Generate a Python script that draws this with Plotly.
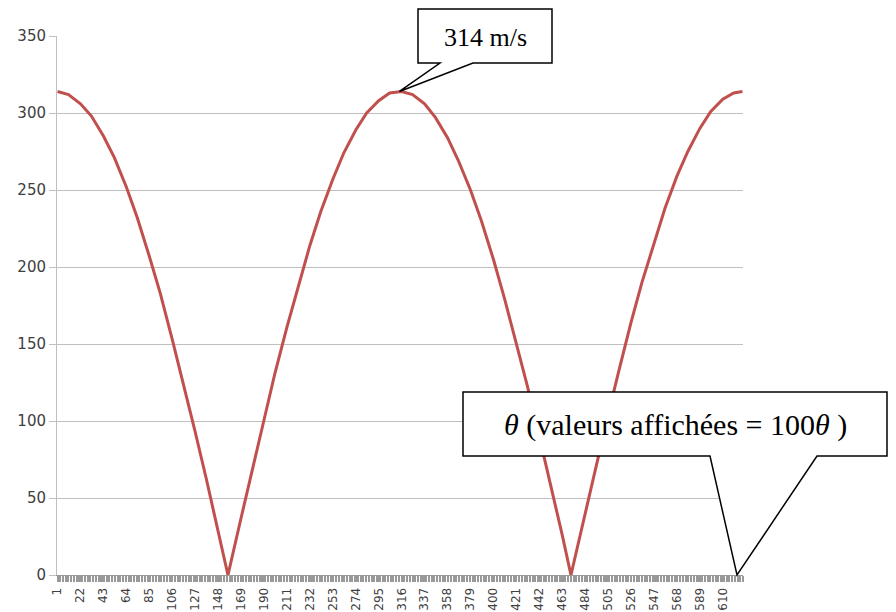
import plotly.graph_objects as go

# ---- data ----
theta_x = [1, 11, 22, 32, 43, 53, 64, 74, 85, 95, 106, 116, 127, 137, 148, 157,
           169, 179, 190, 200, 211, 221, 232, 242, 253, 263, 274, 284, 295, 305, 316,
           326, 337, 347, 358, 368, 379, 389, 400, 410, 421, 431, 442, 452, 463, 471,
           484, 494, 505, 515, 526, 536, 547, 557, 568, 578, 589, 599, 610, 620, 628]
speed_y = [314, 312, 306, 298, 285, 271, 252, 232, 207, 183, 153, 125, 93, 63, 28, 0,
           37, 68, 102, 131, 161, 187, 214, 236, 257, 274, 289, 300, 308, 313, 314,
           312, 306, 297, 284, 269, 250, 230, 205, 180, 151, 123, 90, 60, 26, 0,
           40, 71, 104, 133, 164, 190, 216, 238, 259, 275, 290, 301, 309, 313, 314]
n_categories = 628
tick_labels = [str(v) for v in range(1, 611, 21)]
y_ticks = [0, 50, 100, 150, 200, 250, 300, 350]

# page geometry (the page body adds an 8px offset)
OFF = 8
PAGE_W, PAGE_H = 896, 612
PX0, PX1, PY0, PY1 = 57, 743, 36, 575   # plot area in page pixels
PW, PH = PX1 - PX0, PY1 - PY0
YMAX = 350


def px2paper(px, py):
    return (px - PX0) / PW, (PY1 - py) / PH


def data2paper(cat, val):
    return (cat - 0.5) / n_categories, val / YMAX


def callout_path(box, base, tip):
    x0, y0, x1, y1 = box
    bx0, bx1 = base
    pts = [px2paper(x0, y0), px2paper(x1, y0), px2paper(x1, y1), px2paper(bx1, y1),
           tip, px2paper(bx0, y1), px2paper(x0, y1)]
    return "M " + " L ".join(f"{a:.5f},{b:.5f}" for a, b in pts) + " Z"


fig = go.Figure()
fig.add_trace(go.Scatter(
    x=theta_x, y=speed_y, mode="lines",
    line=dict(color="#C0504D", width=3),
    showlegend=False, hoverinfo="skip",
))

shapes = [
    dict(type="path", xref="paper", yref="paper",
         path=callout_path((418, 9, 552, 63), (440, 473), data2paper(314, 314)),
         fillcolor="white", line=dict(color="black", width=1.5), layer="above"),
    dict(type="path", xref="paper", yref="paper",
         path=callout_path((463, 392, 887, 456), (710, 817), data2paper(623, 0)),
         fillcolor="white", line=dict(color="black", width=1.5), layer="above"),
]

ax1, ay1 = px2paper(485, 37)
ax2, ay2 = px2paper(675, 425)
annotations = [
    dict(xref="paper", yref="paper", x=ax1, y=ay1, text="314 m/s", showarrow=False,
         font=dict(family="Liberation Serif", size=26, color="black"),
         xanchor="center", yanchor="middle"),
    dict(xref="paper", yref="paper", x=ax2, y=ay2,
         text="<i>θ</i> (valeurs affichées = 100<i>θ</i> )", showarrow=False,
         font=dict(family="Liberation Serif", size=30, color="black"),
         xanchor="center", yanchor="middle"),
]

fig.update_layout(
    width=PAGE_W - OFF, height=PAGE_H - OFF,
    margin=dict(l=PX0 - OFF, r=PAGE_W - PX1, t=PY0 - OFF, b=PAGE_H - PY1, autoexpand=False),
    paper_bgcolor="white", plot_bgcolor="white",
    shapes=shapes, annotations=annotations,
    font=dict(family="DejaVu Sans", color="#404040"),
)
fig.update_xaxes(
    range=[0.5, n_categories + 0.5],
    tickmode="array", tickvals=list(range(1, 611, 21)), ticktext=tick_labels,
    tickangle=-90, tickfont=dict(size=12, color="#404040"),
    ticks="outside", ticklen=6, tickcolor="#999999", tickwidth=2,
    minor=dict(dtick=2.5, tick0=1, ticks="outside", ticklen=6, tickcolor="#999999", tickwidth=2),
    ticklabelstandoff=1,
    showgrid=False, showline=True, linecolor="#999999", linewidth=1,
    zeroline=False, automargin=False, fixedrange=True,
)
fig.update_yaxes(
    range=[0, YMAX], tickmode="array", tickvals=y_ticks,
    tickfont=dict(size=15, color="#404040"),
    ticks="outside", ticklen=7, tickcolor="#BFBFBF",
    showgrid=True, gridcolor="#BFBFBF", gridwidth=1,
    showline=True, linecolor="#BFBFBF", linewidth=1,
    zeroline=False, automargin=False, fixedrange=True,
)

fig.write_html("out.html")
